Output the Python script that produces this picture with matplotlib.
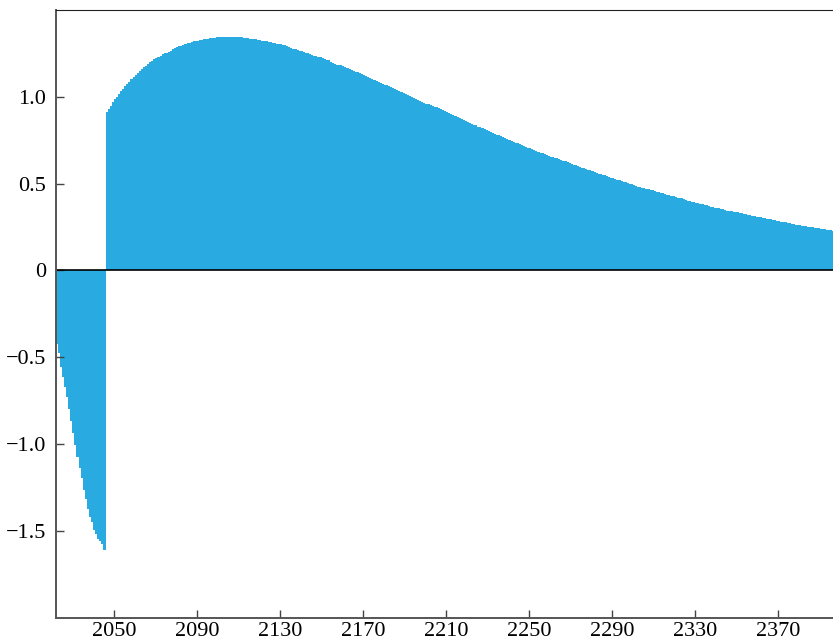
import numpy as np
import matplotlib.pyplot as plt
from matplotlib.ticker import FixedLocator, FuncFormatter

plt.rcParams['font.family'] = ['Liberation Serif', 'DejaVu Serif']

# yearly values, one bar per year starting 2022
years = np.arange(2022, 2397)

neg_vals = [-0.423, -0.477, -0.554, -0.612, -0.669, -0.731, -0.800, -0.869,
            -0.938, -1.004, -1.073, -1.135, -1.198, -1.262, -1.315, -1.371,
            -1.417, -1.446, -1.494, -1.519, -1.544, -1.560, -1.578, -1.610]

pos_vals = [
    # 2046-2075
    0.913, 0.929, 0.946, 0.969, 0.987, 0.998, 1.017, 1.033, 1.044, 1.062,
    1.073, 1.087, 1.102, 1.115, 1.125, 1.137, 1.150, 1.162, 1.171, 1.177,
    1.187, 1.198, 1.206, 1.216, 1.223, 1.231, 1.237, 1.245, 1.250, 1.254,
    # 2076-2111
    1.260, 1.265, 1.273, 1.279, 1.287, 1.291, 1.294, 1.298, 1.304, 1.308,
    1.312, 1.316, 1.319, 1.321, 1.323, 1.327, 1.329, 1.331, 1.333, 1.333,
    1.337, 1.339, 1.339, 1.342, 1.344, 1.345, 1.345, 1.345, 1.345, 1.345,
    1.345, 1.345, 1.345, 1.345, 1.345, 1.345,
    # 2112-2132
    1.341, 1.339, 1.339, 1.335, 1.335, 1.333, 1.333, 1.329, 1.329, 1.323,
    1.323, 1.321, 1.317, 1.317, 1.312, 1.312, 1.306, 1.306, 1.302, 1.298,
    1.298,
    # 2133-2220
    1.293, 1.285, 1.279, 1.273, 1.273, 1.268, 1.262, 1.262, 1.259, 1.250,
    1.250, 1.246, 1.241, 1.235, 1.235, 1.229, 1.229, 1.223, 1.218, 1.214,
    1.210, 1.203, 1.197, 1.189, 1.186, 1.183, 1.181, 1.177, 1.171, 1.166,
    1.160, 1.154, 1.148, 1.143, 1.141, 1.137, 1.131, 1.125, 1.119, 1.114,
    1.108, 1.102, 1.096, 1.091, 1.085, 1.079, 1.073, 1.071, 1.067, 1.062,
    1.056, 1.050, 1.044, 1.038, 1.033, 1.027, 1.021, 1.015, 1.010, 1.004,
    0.998, 0.992, 0.987, 0.981, 0.975, 0.969, 0.964, 0.960, 0.958, 0.952,
    0.946, 0.943, 0.941, 0.935, 0.929, 0.923, 0.917, 0.912, 0.906, 0.900,
    0.894, 0.889, 0.883, 0.877, 0.871, 0.866, 0.860, 0.854,
    # 2221-2307
    0.848, 0.843, 0.840, 0.837, 0.828, 0.825, 0.819, 0.814, 0.808, 0.802,
    0.796, 0.790, 0.787, 0.779, 0.779, 0.773, 0.767, 0.762, 0.756, 0.750,
    0.744, 0.739, 0.737, 0.733, 0.727, 0.721, 0.716, 0.710, 0.708, 0.704,
    0.698, 0.694, 0.690, 0.684, 0.678, 0.675, 0.670, 0.664, 0.658, 0.652,
    0.652, 0.650, 0.646, 0.641, 0.635, 0.633, 0.629, 0.623, 0.620, 0.612,
    0.610, 0.606, 0.600, 0.594, 0.592, 0.589, 0.583, 0.577, 0.577, 0.571,
    0.566, 0.560, 0.558, 0.554, 0.552, 0.548, 0.542, 0.537, 0.533, 0.531,
    0.525, 0.519, 0.519, 0.514, 0.508, 0.508, 0.505, 0.500, 0.496, 0.492,
    0.487, 0.482, 0.479, 0.476, 0.473, 0.470, 0.467,
    # 2308-2396
    0.462, 0.462, 0.456, 0.453, 0.450, 0.447, 0.444, 0.439, 0.437, 0.433,
    0.431, 0.427, 0.421, 0.419, 0.415, 0.415, 0.410, 0.404, 0.402, 0.398,
    0.396, 0.392, 0.390, 0.387, 0.385, 0.381, 0.379, 0.375, 0.369, 0.367,
    0.364, 0.362, 0.362, 0.358, 0.354, 0.352, 0.347, 0.342, 0.340, 0.340,
    0.339, 0.337, 0.335, 0.331, 0.329, 0.326, 0.323, 0.319, 0.317, 0.315,
    0.312, 0.310, 0.306, 0.306, 0.302, 0.300, 0.298, 0.294, 0.294, 0.289,
    0.289, 0.287, 0.283, 0.281, 0.277, 0.277, 0.275, 0.271, 0.269, 0.265,
    0.264, 0.262, 0.260, 0.258, 0.256, 0.254, 0.252, 0.250, 0.248, 0.246,
    0.244, 0.242, 0.240, 0.237, 0.237, 0.235, 0.233, 0.231, 0.230,
]

values = np.array(neg_vals + pos_vals)

x_ticks = [2050, 2090, 2130, 2170, 2210, 2250, 2290, 2330, 2370]
y_ticks = [-1.5, -1.0, -0.5, 0, 0.5, 1.0]

fig = plt.figure(figsize=(8.33, 6.43), dpi=100)
ax = fig.add_axes([0.0669, 0.0393, 0.9331, 0.9451])

ax.bar(years, values, width=1.0, align='edge', color='#29abe2', linewidth=0)
ax.axhline(0, color='black', lw=1.2)

ax.set_xlim(2022, 2396.3)
ax.set_ylim(-2.0, 1.5)

ax.xaxis.set_major_locator(FixedLocator(x_ticks))
ax.yaxis.set_major_locator(FixedLocator(y_ticks))
ax.yaxis.set_major_formatter(FuncFormatter(
    lambda v, p: '0' if v == 0 else f'{v:.1f}'.replace('-', '\u2212')))

ax.tick_params(direction='in', length=6, width=1, color='#444444',
               labelsize=16)
ax.tick_params(axis='x', pad=3)
ax.tick_params(axis='y', pad=7)

ax.spines['right'].set_visible(False)
ax.spines['top'].set_color('#222222')
for s in ['left', 'bottom']:
    ax.spines[s].set_color('#555555')
    ax.spines[s].set_linewidth(1.4)

fig.savefig('out.png', dpi=100)
